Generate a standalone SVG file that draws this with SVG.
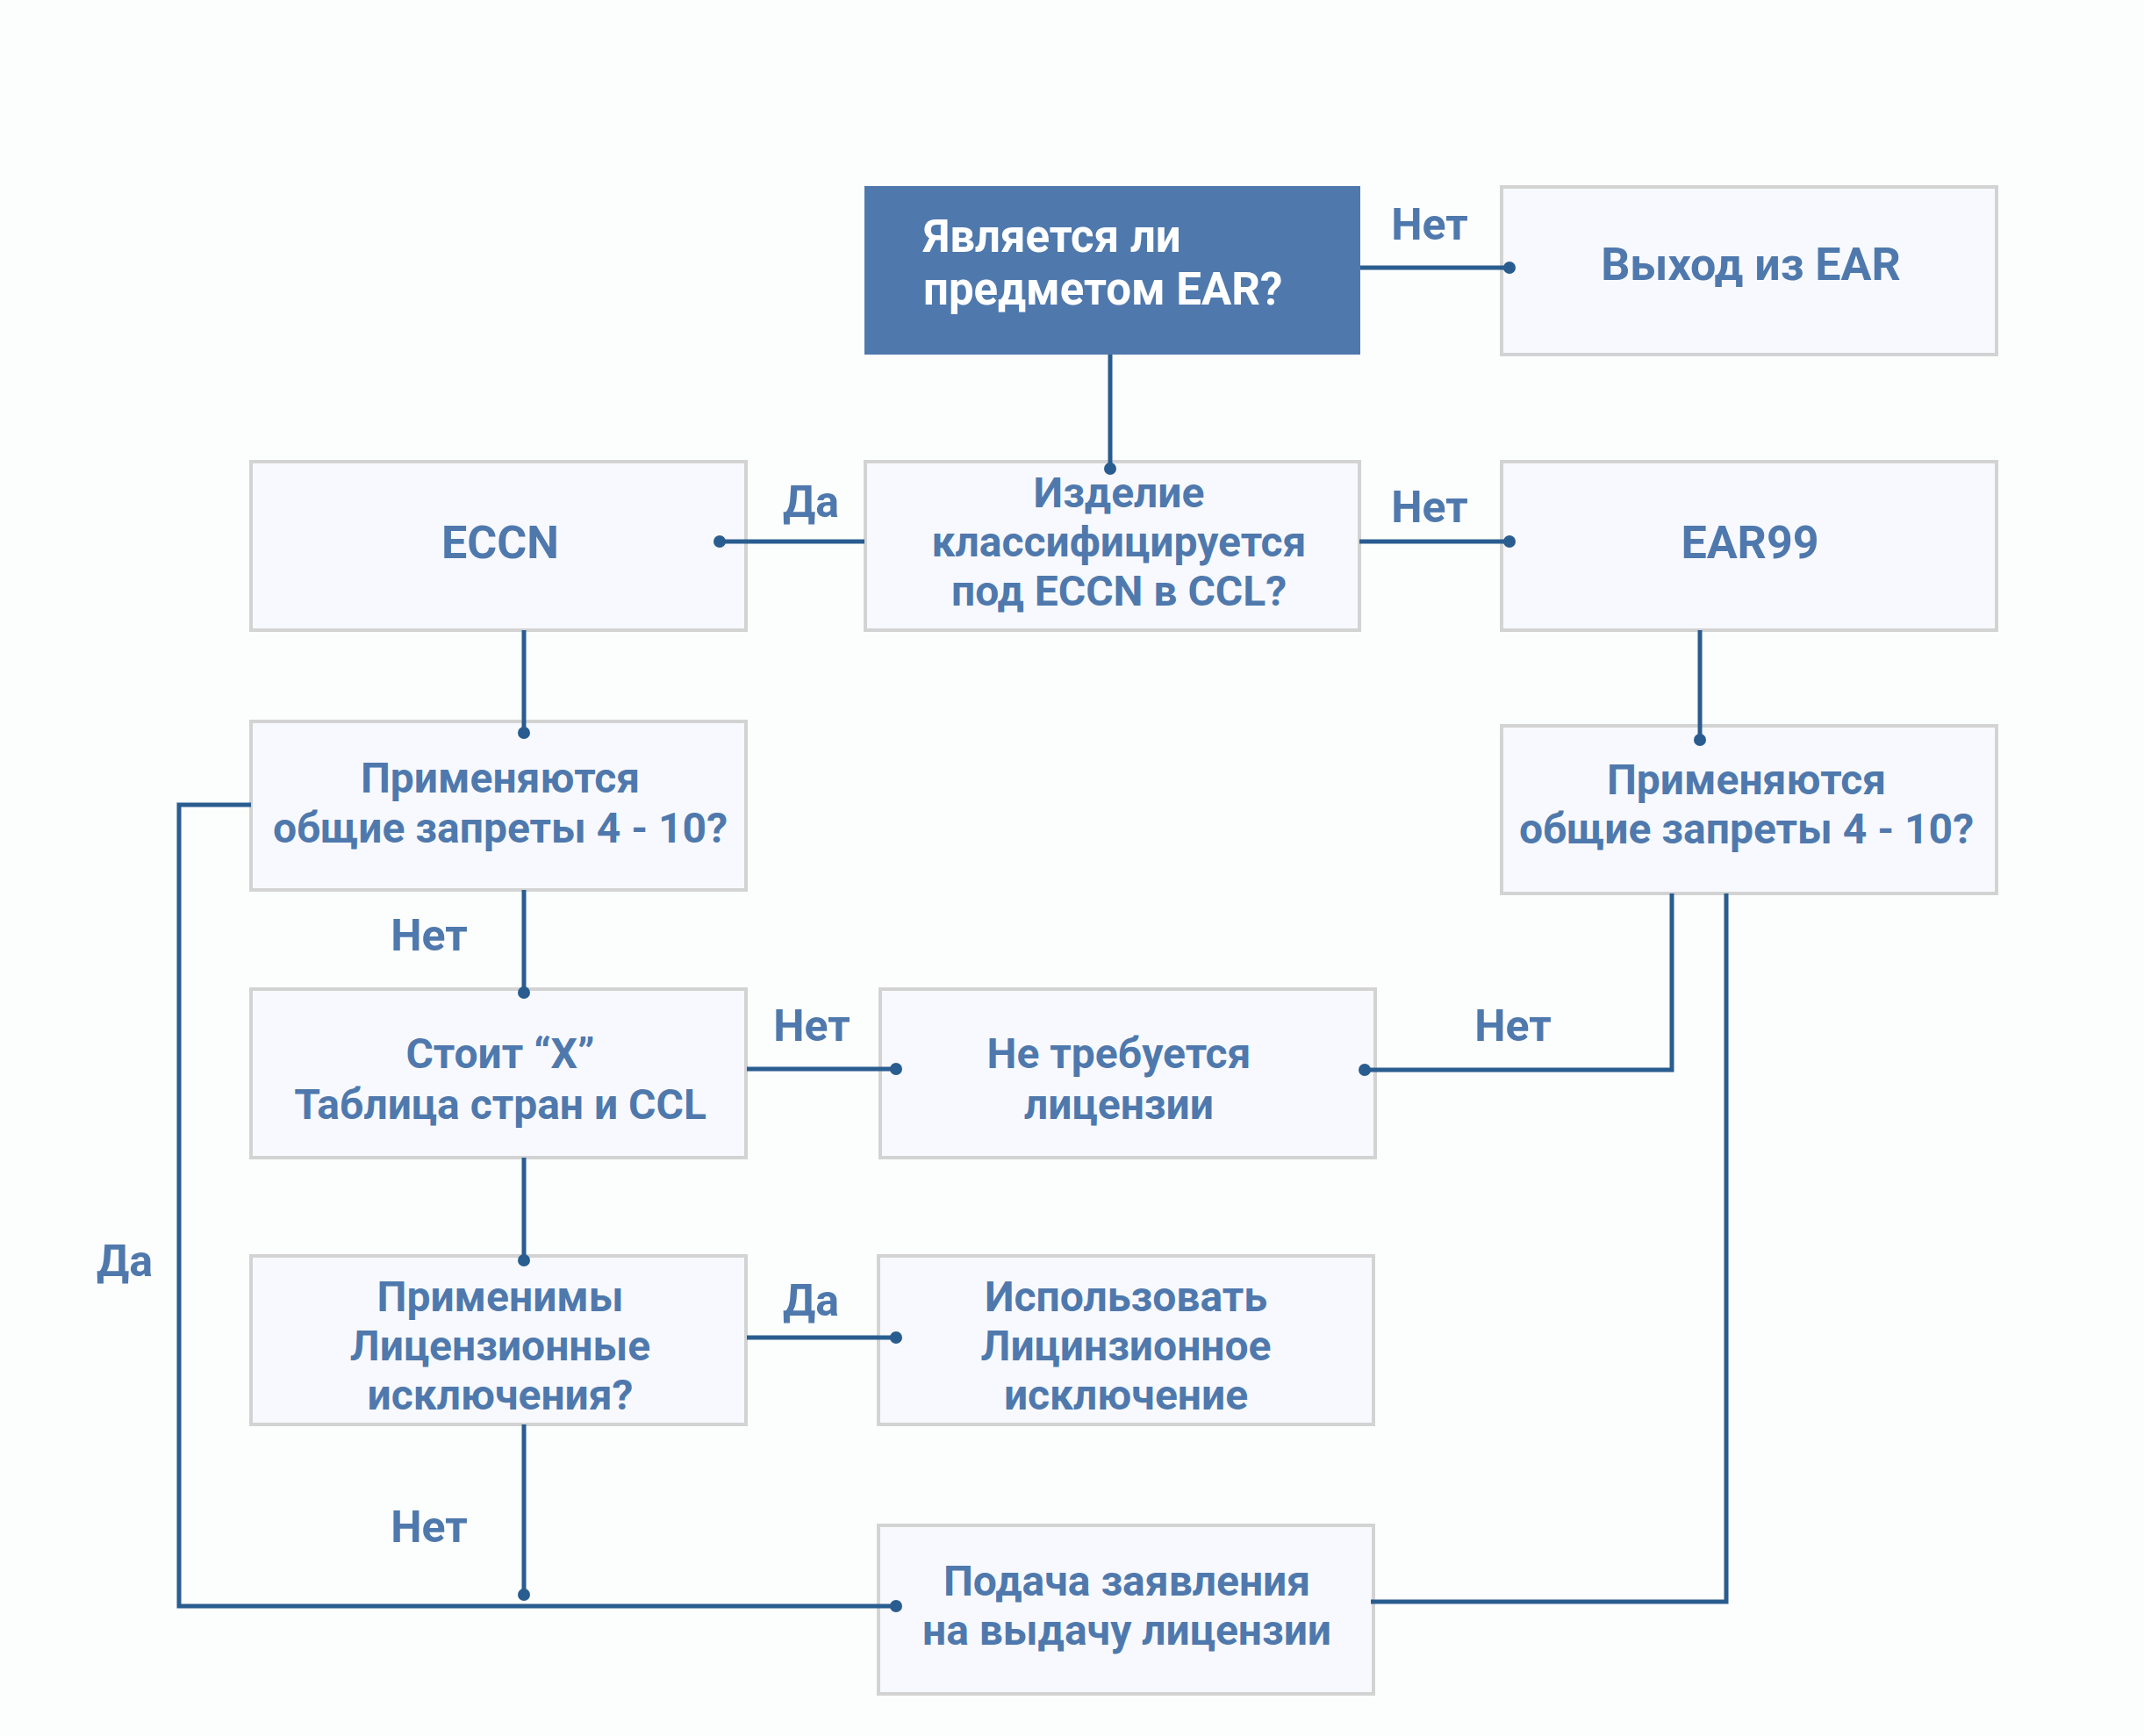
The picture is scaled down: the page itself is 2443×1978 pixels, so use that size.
<svg xmlns="http://www.w3.org/2000/svg" width="2443" height="1978" viewBox="0 0 2443 1978">
<style>
.bg{fill:#fcfdfd}
.box{fill:#f8f9fe;stroke:#d3d3d3;stroke-width:4}
.dark{fill:#4f79ad}
.t{font-family:Roboto,"Noto Sans","DejaVu Sans",sans-serif;font-weight:700;font-size:48px;fill:#4f79ad;text-anchor:middle}
.lb{font-size:50px}
.big{font-size:52px}
.w{fill:#ffffff;text-anchor:start;font-size:51px}
.ln{stroke:#2a5d8f;stroke-width:5;fill:none}
.dot{fill:#2a5d8f}
</style>
<rect class="bg" x="0" y="0" width="2443" height="1978"/>
<g id="n-ear">
<rect class="dark" x="985" y="212" width="565" height="192"/>
<text class="t w" x="1052" y="287">Является ли</text>
<text class="t w" x="1052" y="347">предметом EAR?</text>
</g>
<g id="n-exit">
<rect class="box" x="1711" y="213" width="564" height="191"/>
<text class="t big" x="1995" y="319">Выход из EAR</text>
</g>
<g id="n-classify">
<rect class="box" x="986" y="526" width="563" height="192"/>
<text class="t" x="1275" y="578">Изделие</text>
<text class="t" x="1275" y="634">классифицируется</text>
<text class="t" x="1275" y="690">под ECCN в CCL?</text>
</g>
<g id="n-eccn">
<rect class="box" x="286" y="526" width="564" height="192"/>
<text class="t big" x="570" y="636">ECCN</text>
</g>
<g id="n-ear99">
<rect class="box" x="1711" y="526" width="564" height="192"/>
<text class="t big" x="1994" y="636">EAR99</text>
</g>
<g id="n-prohib-left">
<rect class="box" x="286" y="822" width="564" height="192"/>
<text class="t" x="570" y="903">Применяются</text>
<text class="t" x="570" y="960">общие запреты 4 - 10?</text>
</g>
<g id="n-prohib-right">
<rect class="box" x="1711" y="827" width="564" height="191"/>
<text class="t" x="1990" y="905">Применяются</text>
<text class="t" x="1990" y="961">общие запреты 4 - 10?</text>
</g>
<g id="n-x">
<rect class="box" x="286" y="1127" width="564" height="192"/>
<text class="t" x="570" y="1217">Стоит “X”</text>
<text class="t" x="570" y="1275">Таблица стран и CCL</text>
</g>
<g id="n-nolicense">
<rect class="box" x="1003" y="1127" width="564" height="192"/>
<text class="t" x="1275" y="1217">Не требуется</text>
<text class="t" x="1275" y="1275">лицензии</text>
</g>
<g id="n-exceptions">
<rect class="box" x="286" y="1431" width="564" height="192"/>
<text class="t" x="570" y="1494">Применимы</text>
<text class="t" x="570" y="1550">Лицензионные</text>
<text class="t" x="570" y="1606">исключения?</text>
</g>
<g id="n-use">
<rect class="box" x="1001" y="1431" width="564" height="192"/>
<text class="t" x="1283" y="1494">Использовать</text>
<text class="t" x="1283" y="1550">Лицинзионное</text>
<text class="t" x="1283" y="1606">исключение</text>
</g>
<g id="n-apply">
<rect class="box" x="1001" y="1738" width="564" height="192"/>
<text class="t" x="1284" y="1818">Подача заявления</text>
<text class="t" x="1284" y="1874">на выдачу лицензии</text>
</g>
<g id="connectors">
<path class="ln" d="M1550 305 H1720"/><circle class="dot" cx="1720" cy="305" r="7"/>
<path class="ln" d="M1265 404 V534"/><circle class="dot" cx="1265" cy="534" r="7"/>
<path class="ln" d="M985 617 H820"/><circle class="dot" cx="820" cy="617" r="7"/>
<path class="ln" d="M1549 617 H1720"/><circle class="dot" cx="1720" cy="617" r="7"/>
<path class="ln" d="M597 718 V835"/><circle class="dot" cx="597" cy="835" r="7"/>
<path class="ln" d="M1937 718 V843"/><circle class="dot" cx="1937" cy="843" r="7"/>
<path class="ln" d="M597 1014 V1131"/><circle class="dot" cx="597" cy="1131" r="7"/>
<path class="ln" d="M851 1218 H1021"/><circle class="dot" cx="1021" cy="1218" r="7"/>
<path class="ln" d="M1905 1018 V1219 H1555"/><circle class="dot" cx="1555" cy="1219" r="7"/>
<path class="ln" d="M1967 1018 V1825 H1562"/>
<path class="ln" d="M597 1319 V1436"/><circle class="dot" cx="597" cy="1436" r="7"/>
<path class="ln" d="M851 1524 H1021"/><circle class="dot" cx="1021" cy="1524" r="7"/>
<path class="ln" d="M597 1623 V1817"/><circle class="dot" cx="597" cy="1817" r="7"/>
<path class="ln" d="M286 917 H204 V1830 H1021"/><circle class="dot" cx="1021" cy="1830" r="7"/>
<text class="t lb" x="1629" y="273">Нет</text>
<text class="t lb" x="1629" y="595">Нет</text>
<text class="t lb" x="924" y="589">Да</text>
<text class="t lb" x="489" y="1083">Нет</text>
<text class="t lb" x="925" y="1186">Нет</text>
<text class="t lb" x="1724" y="1186">Нет</text>
<text class="t lb" x="142" y="1454">Да</text>
<text class="t lb" x="924" y="1499">Да</text>
<text class="t lb" x="489" y="1757">Нет</text>
</g>
</svg>
